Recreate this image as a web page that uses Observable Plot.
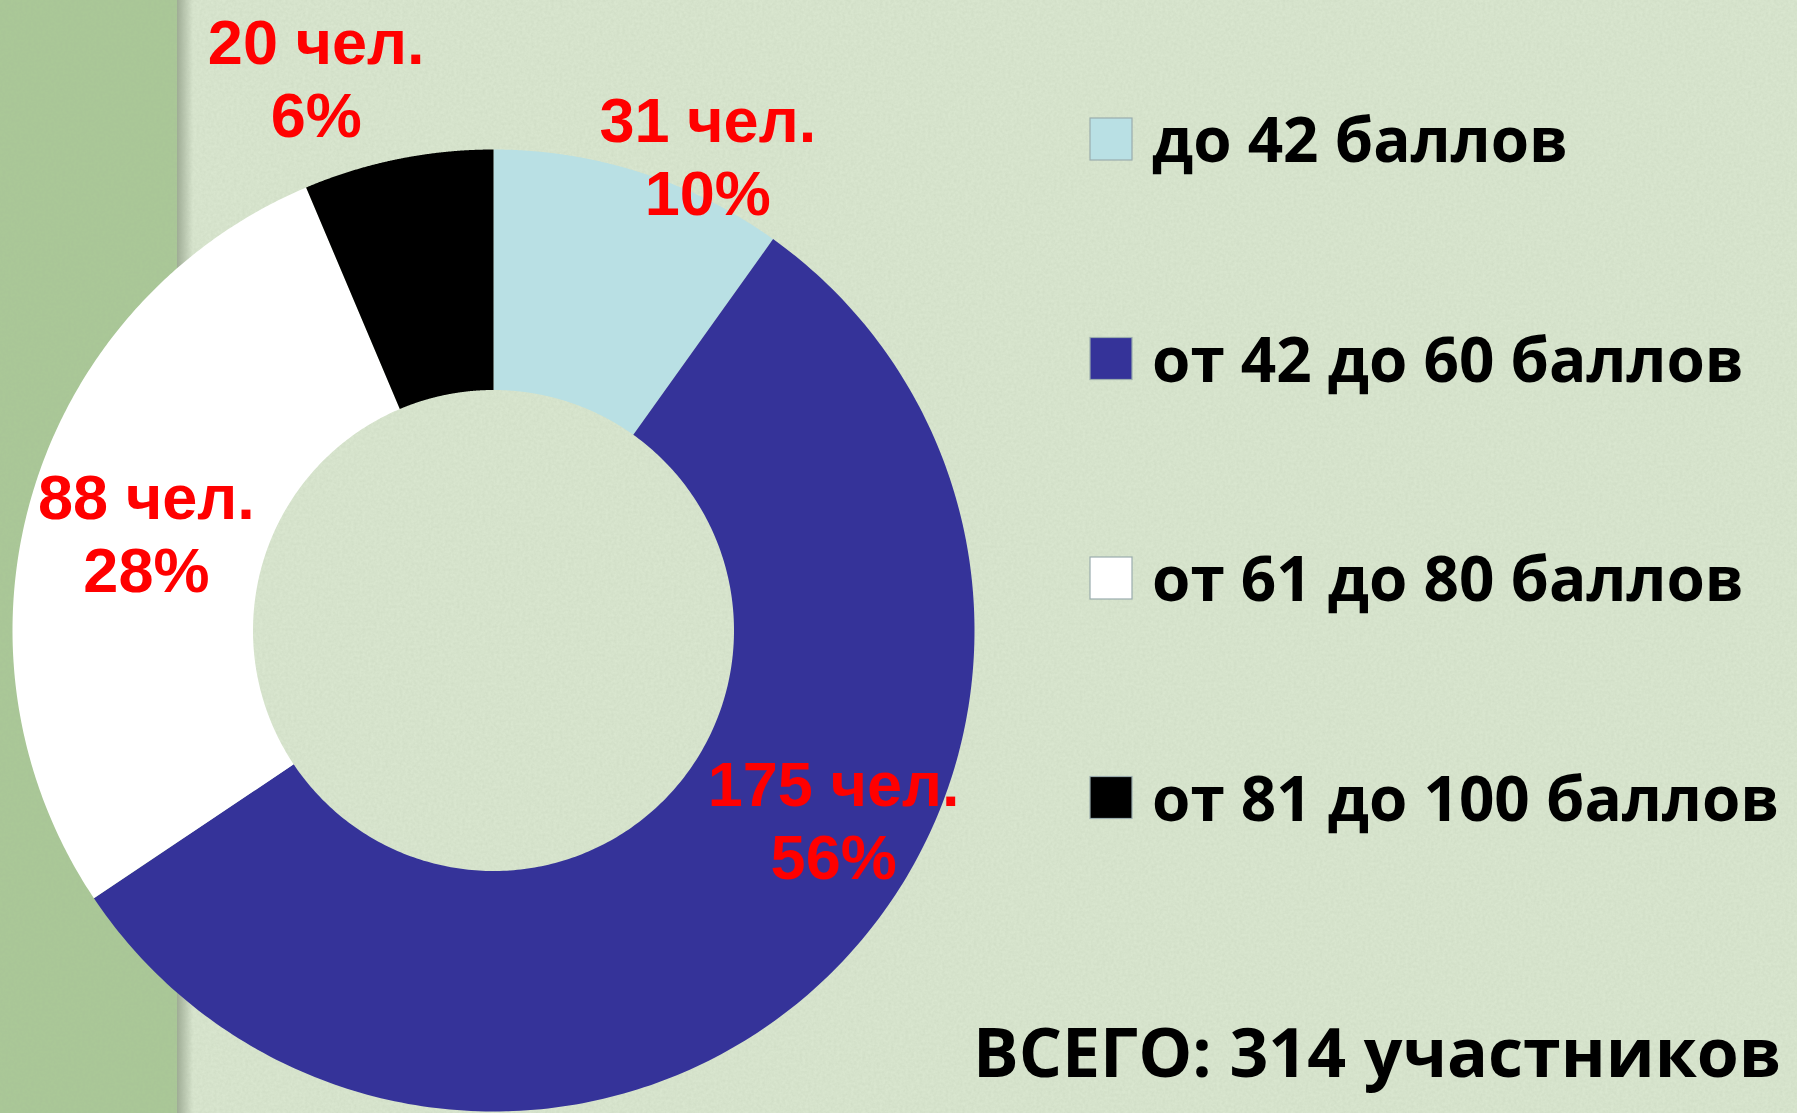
<!DOCTYPE html>
<html>
<head>
<meta charset="utf-8">
<script src="https://cdn.jsdelivr.net/npm/d3@7"></script>
<script src="https://cdn.jsdelivr.net/npm/@observablehq/plot@0.6"></script>
<style>
  html, body { margin: 0; padding: 0; width: 1797px; height: 1113px; overflow: hidden; background: #d9e6cf; }
  #bg { position: absolute; left: 0; top: 0; }
  #chart { position: absolute; left: 0; top: 0; }
  #legend { position: absolute; left: 0; top: 0; }
</style>
</head>
<body>
<svg id="bg" width="1797" height="1113">
  <defs>
    <filter id="paper" x="0" y="0" width="100%" height="100%">
      <feTurbulence type="fractalNoise" baseFrequency="0.35" numOctaves="3" seed="4" result="n"/>
      <feColorMatrix type="matrix" values="0 0 0 0 0.35  0 0 0 0 0.42  0 0 0 0 0.30  0 0 0 0.22 -0.05" in="n"/>
    </filter>
    <linearGradient id="shade" x1="0" x2="1" y1="0" y2="0">
      <stop offset="0" stop-color="#6f7d66" stop-opacity="0.55"/>
      <stop offset="1" stop-color="#6f7d66" stop-opacity="0"/>
    </linearGradient>
  </defs>
  <rect x="0" y="0" width="1797" height="1113" fill="#d9e6cf"/>
  <rect x="0" y="0" width="177" height="1113" fill="#aac897"/>
  <rect x="177" y="0" width="16" height="1113" fill="url(#shade)"/>
  <rect x="0" y="0" width="1797" height="1113" filter="url(#paper)"/>
</svg>
<div id="chart"></div>
<svg id="legend" width="1797" height="1113"></svg>
<script>
// ---- data ----
const categories = ["до 42 баллов", "от 42 до 60 баллов", "от 61 до 80 баллов", "от 81 до 100 баллов"];
const counts = [31, 175, 88, 20];
const unitLabel = "чел.";
const totalPrefix = "ВСЕГО:";
const totalSuffix = "участников";

// ---- styles / layout ----
const colors = ["#b9e0e4", "#353399", "#ffffff", "#000000"];
const W = 1797, H = 1113;
const cx = 493, cy = 630, R = 481;     // donut centre & outer radius (px)
const innerRatio = 0.5;
// label placement: radial factor and angular nudge (deg) from slice mid-angle
const labelRadius = [1.084, 0.809, 0.75, 1.208];
const labelShift = [6.5, -16.8, -0.8, -6.3];

const total = d3.sum(counts);
const arcs = d3.pie().sort(null).startAngle(0).endAngle(2 * Math.PI)(counts);

// polygon points of each slice (derived from the pie angles)
const pts = [];
arcs.forEach((a, i) => {
  const n = 240;
  for (let k = 0; k <= n; k++) {
    const t = a.startAngle + (a.endAngle - a.startAngle) * k / n;
    pts.push({key: categories[i], x: Math.sin(t), y: Math.cos(t)});
  }
  for (let k = n; k >= 0; k--) {
    const t = a.startAngle + (a.endAngle - a.startAngle) * k / n;
    pts.push({key: categories[i], x: innerRatio * Math.sin(t), y: innerRatio * Math.cos(t)});
  }
});

const labels = arcs.map((a, i) => {
  const mid = (a.startAngle + a.endAngle) / 2 + labelShift[i] * Math.PI / 180;
  const r = labelRadius[i];
  const pct = Math.round(counts[i] / total * 100);
  return {x: r * Math.sin(mid), y: r * Math.cos(mid), text: `${counts[i]} ${unitLabel}\n${pct}%`};
});

const chart = Plot.plot({
  width: W,
  height: H,
  margin: 0,
  style: {background: "transparent", overflow: "visible"},
  x: {domain: [-cx / R, (W - cx) / R], range: [0, W], axis: null},
  y: {domain: [-(H - cy) / R, cy / R], range: [H, 0], axis: null},
  color: {domain: categories, range: colors},
  marks: [
    Plot.line(pts, {x: "x", y: "y", z: "key", fill: "key", stroke: "none", curve: "linear-closed"}),
    Plot.text(labels, {
      x: "x", y: "y", text: "text",
      fontSize: 63, fontWeight: "bold", fontFamily: "Liberation Sans, Arial, sans-serif",
      fill: "#ff0000", textAnchor: "middle", lineAnchor: "middle", lineHeight: 1.15
    })
  ]
});
document.getElementById("chart").appendChild(chart);

// ---- legend ----
const lg = d3.select("#legend");
const rowY0 = 139, rowStep = 219.5, swX = 1090, sw = 42, txtX = 1152;
categories.forEach((c, i) => {
  const yc = rowY0 + i * rowStep;
  lg.append("rect").attr("x", swX).attr("y", yc - sw / 2).attr("width", sw).attr("height", sw)
    .attr("fill", colors[i]).attr("stroke", "#9aacad").attr("stroke-width", 1.2);
  lg.append("text").attr("x", txtX).attr("y", yc + 23)
    .attr("font-family", "'Open Sans', sans-serif").attr("font-weight", "bold")
    .attr("font-size", 62).attr("fill", "#000").text(c);
});
lg.append("text").attr("x", 973).attr("y", 1077)
  .attr("font-family", "'Open Sans', sans-serif").attr("font-weight", "bold")
  .attr("font-size", 68).attr("fill", "#000").text(`${totalPrefix} ${total} ${totalSuffix}`);
</script>
</body>
</html>
